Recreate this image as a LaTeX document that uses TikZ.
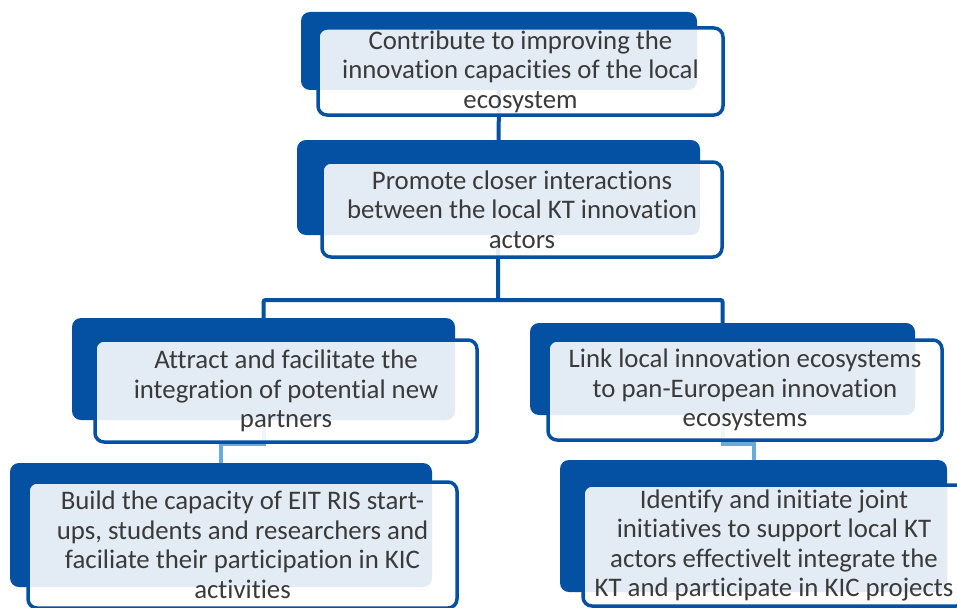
\documentclass[tikz,border=0pt]{standalone}
\usepackage{fontspec}
\setmainfont{Carlito}[Ligatures=NoCommon]
\usetikzlibrary{backgrounds,calc}
\definecolor{ktblue}{RGB}{4,80,162}
\definecolor{ktsky}{RGB}{104,172,222}
\definecolor{kttext}{RGB}{58,58,58}

\begin{document}
\begin{tikzpicture}[
    x=1pt, y=-1pt,
    back/.style={rectangle, rounded corners=9pt, fill=ktblue, inner sep=0pt},
    card/.style={rectangle, rounded corners=9pt, draw=ktblue, line width=3.5pt,
                 fill=white, fill opacity=0.89, text opacity=1, text=kttext,
                 align=center, inner sep=0pt,
                 font=\fontsize{26.8}{29.5}\selectfont},
    link/.style={draw=ktblue, line width=4pt, rounded corners=2pt},
    sublink/.style={draw=ktsky, line width=4pt},
]
\useasboundingbox (0,0) rectangle (957,607);
\clip (0,0) rectangle (957,607);

%% Nivell 1
\node[back, minimum width=396pt, minimum height=78pt] (g1) at (499,51) {};
\node[card, minimum width=405pt, minimum height=87pt] (t1) at (520.5,71.5)
  {Contribute to improving the\\innovation capacities of the local\\ecosystem};

%% Nivell 2
\node[back, minimum width=403pt, minimum height=95pt] (g2) at (498.5,187.5) {};
\node[card, minimum width=400pt, minimum height=95pt] (t2) at (522,209.5)
  {Promote closer interactions\\between the local KT innovation\\actors};

%% Nivell 3
\node[back, minimum width=383pt, minimum height=102pt] (g3) at (263.5,369) {};
\node[card, minimum width=382pt, minimum height=102pt] (t3) at (286,391)
  {Attract and facilitate the\\integration of potential new\\partners};
\node[back, minimum width=385pt, minimum height=92pt] (g4) at (722.5,369) {};
\node[card, minimum width=394pt, minimum height=100pt] (t4) at (745,390)
  {Link local innovation ecosystems\\to pan-European innovation\\ecosystems};

%% Nivell 4
\node[back, minimum width=422pt, minimum height=124pt] (g5) at (221,525) {};
\node[card, minimum width=429pt, minimum height=126pt] (t5) at (242.5,545)
  {Build the capacity of EIT RIS start-\\ups, students and researchers and\\faciliate their participation in KIC\\activities};
\node[back, minimum width=387pt, minimum height=132pt] (g6) at (753.5,526) {};
\node[card, minimum width=382pt, minimum height=121pt] (t6) at (774,545.5)
  {Identify and initiate joint\\initiatives to support local KT\\actors effectivelt integrate the\\KT and participate in KIC projects};

%% Connectors (darrere de les caixes)
\coordinate (split) at (498,300);
\begin{scope}[on background layer]
  \draw[link] (g1.center) -- (g2.center);
  \draw[link] (g2.center) -- (split);
  \draw[link] (g3.center) |- (split) -| (g4.center);
  \draw[sublink] (g3.center) |- ($(g5.north)+(0,-19)$) -- (g5.center);
  \draw[sublink] (g4.center) |- ($(g6.north)+(0,-16)$) -- (g6.center);
\end{scope}

\end{tikzpicture}
\end{document}
